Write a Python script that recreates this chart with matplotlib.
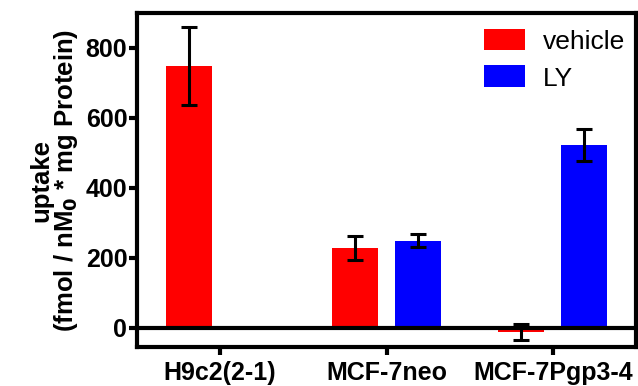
import matplotlib.pyplot as plt
import numpy as np

plt.rcParams['font.family'] = ['Liberation Sans', 'DejaVu Sans']

cells = ['H9c2(2-1)', 'MCF-7neo', 'MCF-7Pgp3-4']
vehicle = [748, 228, -12]
vehicle_err = [112, 34, 23]
ly = [np.nan, 249, 522]
ly_err = [np.nan, 19, 46]

fig = plt.figure(figsize=(6.38, 3.86), dpi=100)
ax = fig.add_axes([137/638, 39/386, 499/638, 334/386])

x = np.arange(len(cells))
w = 0.277
off = 0.19
err_kw = dict(ecolor='black', elinewidth=2.2, capsize=6, capthick=2.2)

ax.bar(x - off, vehicle, w, yerr=vehicle_err, color='#ff0000',
       label='vehicle', error_kw=err_kw)
ax.bar(x + off, ly, w, yerr=ly_err, color='#0000ff',
       label='LY', error_kw=err_kw)

ax.axhline(0, color='black', linewidth=3, zorder=5)

ax.set_xlim(-0.5, 2.5)
ax.set_ylim(-55, 900)
ax.set_yticks([0, 200, 400, 600, 800])
ax.set_xticks(x)
ax.set_xticklabels(cells)

for sp in ax.spines.values():
    sp.set_linewidth(3)
ax.tick_params(width=3, length=6, labelsize=18)
ax.tick_params(axis='y', pad=1)
ax.tick_params(axis='x', pad=4)
for lab in ax.get_xticklabels() + ax.get_yticklabels():
    lab.set_fontweight('bold')

ax.set_ylabel('uptake\n(fmol / nM$_\\mathbf{0}$ * mg Protein)',
              fontsize=18.5, fontweight='bold', linespacing=0.95, labelpad=4)

ax.legend(loc='upper right', bbox_to_anchor=(1.0, 0.985), frameon=False,
          fontsize=19, handlelength=1.55, handleheight=0.9,
          borderaxespad=0.1, borderpad=0.3, handletextpad=0.7,
          labelspacing=0.45)

fig.savefig('out.png', dpi=100)
